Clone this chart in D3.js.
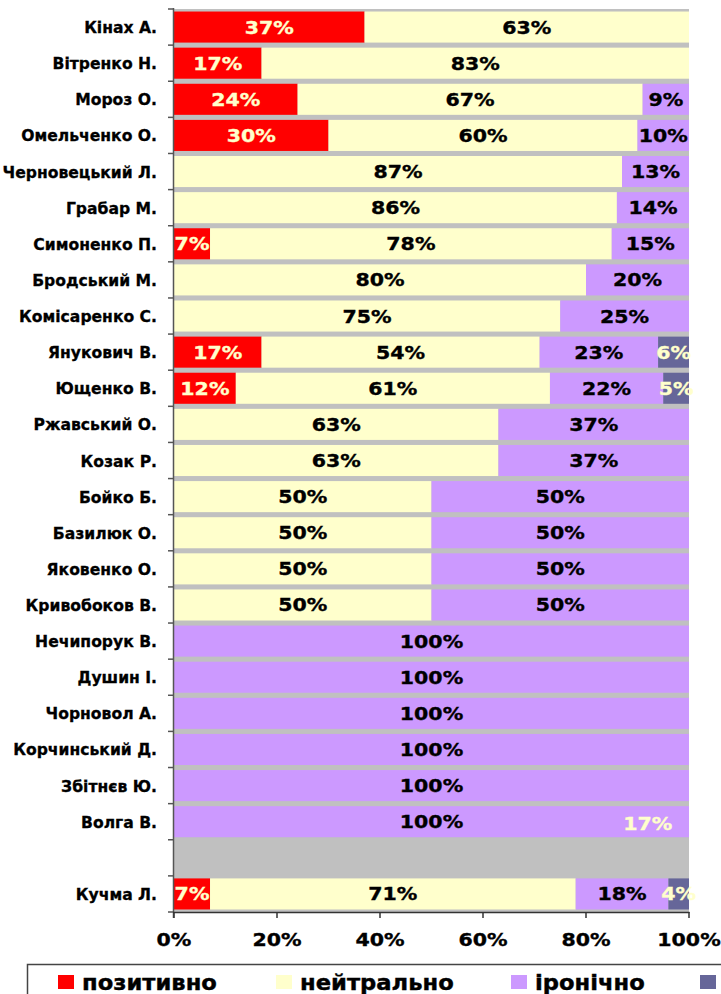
<!DOCTYPE html>
<html>
<head>
<meta charset="utf-8">
<script src="https://cdn.jsdelivr.net/npm/d3@7/dist/d3.min.js"></script>
<style>
  body { margin: 0; background: #fff; }
  svg text { font-family: "DejaVu Sans", Verdana, sans-serif; font-weight: bold; }
</style>
</head>
<body>
<script>
// names, top to bottom ('' = empty spacer row)
const names = ['Кінах А.', 'Вітренко Н.', 'Мороз О.', 'Омельченко О.', 'Черновецький Л.', 'Грабар М.',
  'Симоненко П.', 'Бродський М.', 'Комісаренко С.', 'Янукович В.', 'Ющенко В.', 'Ржавський О.',
  'Козак Р.', 'Бойко Б.', 'Базилюк О.', 'Яковенко О.', 'Кривобоков В.', 'Нечипорук В.', 'Душин І.',
  'Чорновол А.', 'Корчинський Д.', 'Збітнєв Ю.', 'Волга В.', '', 'Кучма Л.'];
const positive = [37, 17, 24, 30, 0, 0, 7, 0, 0, 17, 12, 0, 0, 0, 0, 0, 0, 0, 0, 0, 0, 0, 0, 0, 7];
const neutral  = [63, 83, 67, 60, 87, 86, 78, 80, 75, 54, 61, 63, 63, 50, 50, 50, 50, 0, 0, 0, 0, 0, 0, 0, 71];
const ironic   = [0, 0, 9, 10, 13, 14, 15, 20, 25, 23, 22, 37, 37, 50, 50, 50, 50, 100, 100, 100, 100, 100, 100, 0, 18];
const negative = [0, 0, 0, 0, 0, 0, 0, 0, 0, 6, 5, 0, 0, 0, 0, 0, 0, 0, 0, 0, 0, 0, 0, 0, 4];
const seriesNames = ['позитивно', 'нейтрально', 'іронічно', 'негативно'];
const xTicks = [0, 20, 40, 60, 80, 100];
// stray label left over on the Волга row
const strayLabels = [{ row: 22, value: 17, at: 92 }];

const colors = ['#FF0000', '#FFFFCC', '#CC99FF', '#666699'];
const labelColors = ['#FFFFCC', '#000', '#000', '#FFFFCC'];

const W = 721, H = 994;
const mLeft = 174, mRight = 689, mTop = 9, mBottom = 912;

const svg = d3.select('body').append('svg').attr('width', W).attr('height', H);

const rows = names.map((n, i) => ({ i: i, name: n, s0: positive[i], s1: neutral[i], s2: ironic[i], s3: negative[i] }));
const keys = ['s0', 's1', 's2', 's3'];
const stacked = d3.stack().keys(keys)(rows);

const x = d3.scaleLinear().domain([0, 100]).range([mLeft, mRight]);
const y = d3.scaleBand().domain(d3.range(names.length)).range([mTop, mBottom]).paddingInner(0.14).paddingOuter(0.07);

// wide bold label, a bit like verdana
function pctText(sel, fill) {
  sel.attr('text-anchor', 'middle')
    .attr('font-size', 18)
    .attr('fill', fill).attr('stroke', fill).attr('stroke-width', 0.35);
}

// plot area
svg.append('rect').attr('x', mLeft).attr('y', mTop).attr('width', mRight - mLeft).attr('height', mBottom - mTop)
  .attr('fill', '#C0C0C0');

const layers = svg.selectAll('g.layer').data(stacked).enter().append('g').attr('class', 'layer')
  .attr('fill', (d, i) => colors[i]);
layers.selectAll('rect').data(d => d).enter().append('rect')
  .attr('x', d => x(d[0]))
  .attr('y', d => y(d.data.i))
  .attr('width', d => x(d[1]) - x(d[0]))
  .attr('height', y.bandwidth());

// data labels
stacked.forEach((layer, k) => {
  svg.append('g').selectAll('text').data(layer.filter(d => d[1] - d[0] > 0)).enter().append('text')
    .attr('transform', d => 'translate(' + x((d[0] + d[1]) / 2) + ',' + (y(d.data.i) + y.bandwidth() / 2 + 6.5) + ') scale(1.14,1)')
    .call(pctText, labelColors[k])
    .text(d => (d[1] - d[0]) + '%');
});
svg.append('g').selectAll('text').data(strayLabels).enter().append('text')
  .attr('transform', d => 'translate(' + x(d.at) + ',' + (y(d.row) + y.bandwidth() / 2 + 8) + ') scale(1.14,1)')
  .call(pctText, '#FFFFCC')
  .text(d => d.value + '%');

// y axis
const ya = svg.append('g');
ya.append('line').attr('x1', mLeft - 0.5).attr('x2', mLeft - 0.5).attr('y1', mTop - 1).attr('y2', mBottom + 6)
  .attr('stroke', '#555').attr('stroke-width', 1.5);
ya.selectAll('line.tk').data(d3.range(names.length + 1)).enter().append('line').attr('class', 'tk')
  .attr('x1', mLeft - 6).attr('x2', mLeft)
  .attr('y1', i => mTop + i * y.step()).attr('y2', i => mTop + i * y.step())
  .attr('stroke', '#555').attr('stroke-width', 1.5);
ya.selectAll('text').data(rows).enter().append('text')
  .attr('x', mLeft - 17)
  .attr('y', d => y(d.i) + y.bandwidth() / 2 + 6)
  .attr('text-anchor', 'end')
  .attr('font-size', 15.6)
  .attr('fill', '#000').attr('stroke', '#000').attr('stroke-width', 0.3)
  .text(d => d.name);

// x axis
const xa = svg.append('g');
xa.append('line').attr('x1', mLeft - 1).attr('x2', mRight + 0.5).attr('y1', mBottom + 0.5).attr('y2', mBottom + 0.5)
  .attr('stroke', '#333').attr('stroke-width', 1.5);
xa.selectAll('line.tk').data(xTicks).enter().append('line').attr('class', 'tk')
  .attr('x1', d => x(d)).attr('x2', d => x(d))
  .attr('y1', mBottom).attr('y2', mBottom + 6)
  .attr('stroke', '#333').attr('stroke-width', 1.5);
xa.selectAll('text').data(xTicks).enter().append('text')
  .attr('transform', d => 'translate(' + x(d) + ',946) scale(1.14,1)')
  .call(pctText, '#000')
  .text(d => d + '%');

// legend (runs off the right edge, like the original)
const lg = svg.append('g');
lg.append('rect').attr('x', 27.5).attr('y', 964.5).attr('width', 760).attr('height', 60)
  .attr('fill', '#fff').attr('stroke', '#444').attr('stroke-width', 1.5);
const legendX = [58, 276, 511, 700];
const items = lg.selectAll('g.item').data(seriesNames).enter().append('g').attr('class', 'item')
  .attr('transform', (d, i) => 'translate(' + legendX[i] + ',0)');
items.append('rect').attr('x', 0).attr('y', 975).attr('width', 16).attr('height', 14)
  .attr('fill', (d, i) => colors[i]);
items.filter((d, i) => legendX[i] + 24 < W - 20).append('text')
  .attr('transform', 'translate(24,989.5) scale(1.08,1)')
  .attr('font-size', 21).attr('fill', '#000').attr('stroke', '#000').attr('stroke-width', 0.4)
  .text(d => d);
</script>
</body>
</html>
